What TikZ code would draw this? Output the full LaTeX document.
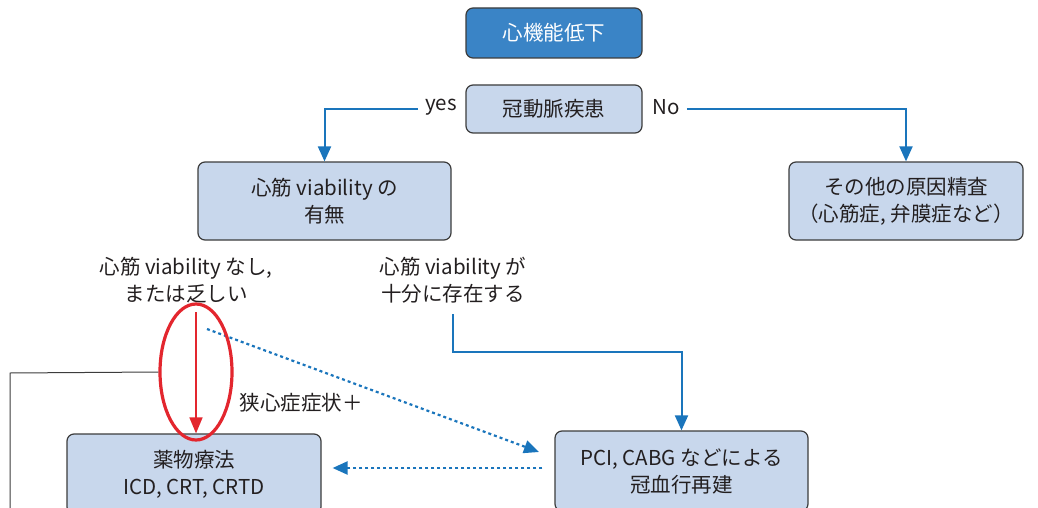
\documentclass[tikz,border=0pt]{standalone}
\usepackage{fontspec}
\setmainfont{Noto Sans CJK JP}
\usetikzlibrary{arrows.meta,shapes.geometric}
\definecolor{darkbox}{HTML}{3A84C6}
\definecolor{lightbox}{HTML}{C8D7EC}
\definecolor{boxline}{HTML}{3C3C3C}
\definecolor{flowblue}{HTML}{1A75BC}
\definecolor{ringred}{HTML}{E3262E}
\definecolor{textgray}{HTML}{231F20}

\tikzset{
  box/.style={draw=boxline, fill=lightbox, line width=1.2pt, rounded corners=7pt,
    align=center, text=textgray, inner sep=0pt},
  topbox/.style={box, fill=darkbox, text=white},
  flow/.style={draw=flowblue, line width=2pt, -{Triangle[width=13pt,length=15pt]}},
  dotflow/.style={flow, line width=2.2pt, dash pattern=on 3pt off 3pt},
  lbl/.style={align=center, text=textgray, inner sep=1pt}
}

\begin{document}
\begin{tikzpicture}[x=1pt, y=-1pt, font=\fontsize{20.5}{27}\selectfont]
    \useasboundingbox (0,0) rectangle (1038,508);

    \node[topbox, minimum width=176pt, minimum height=50pt] (heart) at (554,33) {心機能低下};
    \node[box, minimum width=176pt, minimum height=48pt] (cad) at (554,109) {冠動脈疾患};
    \node[box, minimum width=253pt, minimum height=78pt] (viab) at (324.5,201) {心筋 viability の\\有無};
    \node[box, minimum width=234pt, minimum height=78pt] (other) at (906,201) {その他の原因精査\\（心筋症, 弁膜症など）};
    \node[box, minimum width=254pt, minimum height=80pt] (drug) at (194,474) {薬物療法\\ICD, CRT, CRTD};
    \node[box, minimum width=253pt, minimum height=80pt] (pci) at (681.5,471) {PCI, CABG などによる\\冠血行再建};

    \node[lbl, inner xsep=7pt] (yes) at (441,107) {yes};
    \node[lbl, inner xsep=7pt] (no) at (666,107) {No};
    \node[lbl] (poor) at (186,280) {心筋 viability なし,\\または乏しい};
    \node[lbl] (enough) at (453,280) {心筋 viability が\\十分に存在する};
    \node[lbl] (angina) at (301,403) {狭心症症状＋};

    \coordinate (enoughfoot) at (453,314);
    \coordinate (redtop) at (196,312);
    \coordinate (dotstart) at (207,329);
    \coordinate (dotend) at (539,452);
    \coordinate (leftcorner) at (10,373);

    \draw[flow] (yes.west |- cad) -| (viab.north);
    \draw[flow] (no.east |- cad) -| (other.north);
    \draw[flow] (enoughfoot) |- (551,352) -| (pci.north);
    \draw[dotflow] (dotstart) -- (dotend);
    \draw[dotflow, shorten <=12pt, shorten >=11pt] (pci.west |- 0,468) -- (drug.east |- 0,468);

    \draw[ringred, line width=1.6pt, -{Triangle[width=13pt,length=16pt]}] (redtop) -- (drug.north -| redtop);
    \node[draw=ringred, line width=3.2pt, ellipse, minimum width=72pt, minimum height=136pt] (ring) at (196,372) {};
    \draw[boxline, line width=1pt] (ring.west) -- (leftcorner) -- (10,508);
\end{tikzpicture}
\end{document}
